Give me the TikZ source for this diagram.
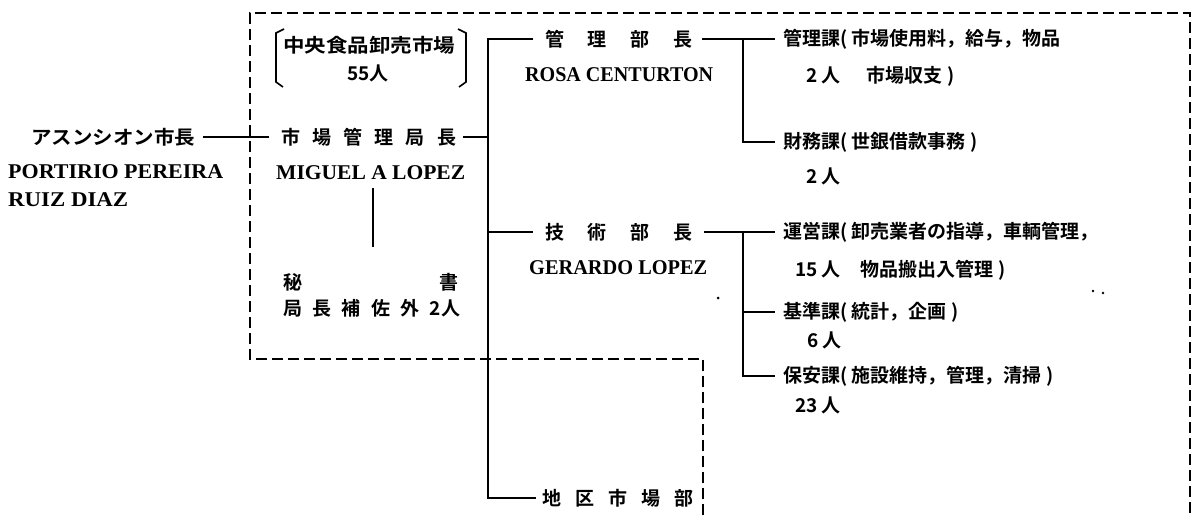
\documentclass[tikz,border=0pt]{standalone}
\usepackage{fontspec}
\setmainfont{Liberation Serif}
\newfontfamily\cjk{Noto Sans CJK JP}[UprightFont=* Bold]
\newfontfamily\lat{Liberation Serif}
\newcommand{\hstretch}[2]{\resizebox{#1}{\height}{#2}}
\begin{document}
\begin{tikzpicture}[x=1pt,y=-1pt,
  ln/.style={line width=1.9pt},
  dsh/.style={line width=1.9pt, dash pattern=on 11pt off 5pt},
  jp/.style={inner sep=0pt, font=\cjk\fontsize{19}{19}\selectfont, anchor=west},
  en/.style={inner sep=0pt, font=\lat\bfseries\fontsize{21}{21}\selectfont, anchor=west}]
\useasboundingbox (0,0) rectangle (1201,515);

% dashed boundary
\coordinate (d1) at (703,515);
\coordinate (d2) at (703,359);
\coordinate (d3) at (250,359);
\coordinate (d4) at (250,13);
\coordinate (d5) at (1190,13);
\coordinate (d6) at (1190,515);
\draw[dsh] (d1) -- (d2) -- (d3) -- (d4) -- (d5) -- (d6);

% left: mayor
\node[jp] (mayor) at (31,137) {\hstretch{164pt}{アスンシオン市長}};
\node[en] (mayorA) at (8,172) {\hstretch{215pt}{PORTIRIO PEREIRA}};
\node[en] (mayorB) at (8,200) {\hstretch{120pt}{RUIZ DIAZ}};

% director
\node[jp] (kyoku) at (281,137) {\makebox[175pt]{市\hfill 場\hfill 管\hfill 理\hfill 局\hfill 長}};
\node[en] (kyokuN) at (276,173) {\hstretch{189pt}{MIGUEL A LOPEZ}};

% central market bracket
\node[jp] (market) at (283,45) {\hstretch{172pt}{中央食品卸売市場}};
\node[jp, anchor=center] (marketN) at (368,73) {55人};
\coordinate (bl1) at (284,29);
\coordinate (bl2) at (276,33);
\coordinate (bl3) at (276,82);
\coordinate (bl4) at (283,87);
\coordinate (br1) at (458,29);
\coordinate (br2) at (466,33);
\coordinate (br3) at (466,82);
\coordinate (br4) at (459,87);
\draw[line width=1.6pt] (bl1) -- (bl2) -- (bl3) -- (bl4);
\draw[line width=1.6pt] (br1) -- (br2) -- (br3) -- (br4);

% secretary
\node[jp] (hisho) at (283,282) {\makebox[175pt]{秘\hfill 書}};
\node[jp] (hishoB) at (283,308) {\makebox[177pt]{局\hfill 長\hfill 補\hfill 佐\hfill 外\hfill 2人}};
\coordinate (s1) at (373,188);
\coordinate (s2) at (373,247);
\draw[ln] (s1) -- (s2);

% departments
\node[jp] (kanri) at (545,39) {\makebox[147pt]{管\hfill 理\hfill 部\hfill 長}};
\node[en] (kanriN) at (525,75) {\hstretch{188pt}{ROSA CENTURTON}};
\node[jp] (gijutsu) at (545,232) {\makebox[147pt]{技\hfill 術\hfill 部\hfill 長}};
\node[en] (gijutsuN) at (529,268) {\hstretch{178pt}{GERARDO LOPEZ}};
\node[jp] (chiku) at (542,498) {\makebox[151pt]{地\hfill 区\hfill 市\hfill 場\hfill 部}};

% sections
\node[jp] (k1) at (783,39) {管理課( 市場使用料，給与，物品};
\node[jp] (k1b) at (806,76) {2 人\hspace{26pt}市場収支 )};
\node[jp] (k2) at (783,142) {財務課( 世銀借款事務 )};
\node[jp] (k2b) at (806,176) {2 人};
\node[jp] (k3) at (783,232) {運営課( 卸売業者の指導，車輌管理，};
\node[jp] (k3b) at (795,270) {15 人\hspace{20pt}物品搬出入管理 )};
\node[jp] (k4) at (783,312) {基準課( 統計，企画 )};
\node[jp] (k4b) at (807,340) {6 人};
\node[jp] (k5) at (783,376) {保安課( 施設維持，管理，清掃 )};
\node[jp] (k5b) at (795,405) {23 人};

% connectors
\coordinate (tr) at (488,0);
\coordinate (vr) at (743,0);
\draw[ln] ([xshift=8pt]mayor.east) -- ([xshift=-12pt]kyoku.west);
\draw[ln] ([xshift=7pt]kyoku.east) -- (kyoku.east -| tr);
\draw[ln] ([xshift=-12pt]kanri.west) -- (kanri.west -| tr) -- (chiku.west -| tr) -- ([xshift=-6pt]chiku.west);
\draw[ln] (gijutsu.west -| tr) -- ([xshift=-12pt]gijutsu.west);

\draw[ln] ([xshift=10pt]kanri.east) -- ([xshift=-8pt]k1.west);
\draw[ln] (kanri.east -| vr) |- ([xshift=-8pt]k2.west);
\draw[ln] ([xshift=12pt]gijutsu.east) -- ([xshift=-8pt]k3.west);
\draw[ln] (gijutsu.east -| vr) |- ([xshift=-8pt]k5.west);
\draw[ln] (k4.west -| vr) -- ([xshift=-8pt]k4.west);

% stray specks
\fill (718,298) circle (1.5pt);
\fill (1093,291) circle (1.3pt);
\fill (1103,293) circle (1.3pt);
\end{tikzpicture}
\end{document}
